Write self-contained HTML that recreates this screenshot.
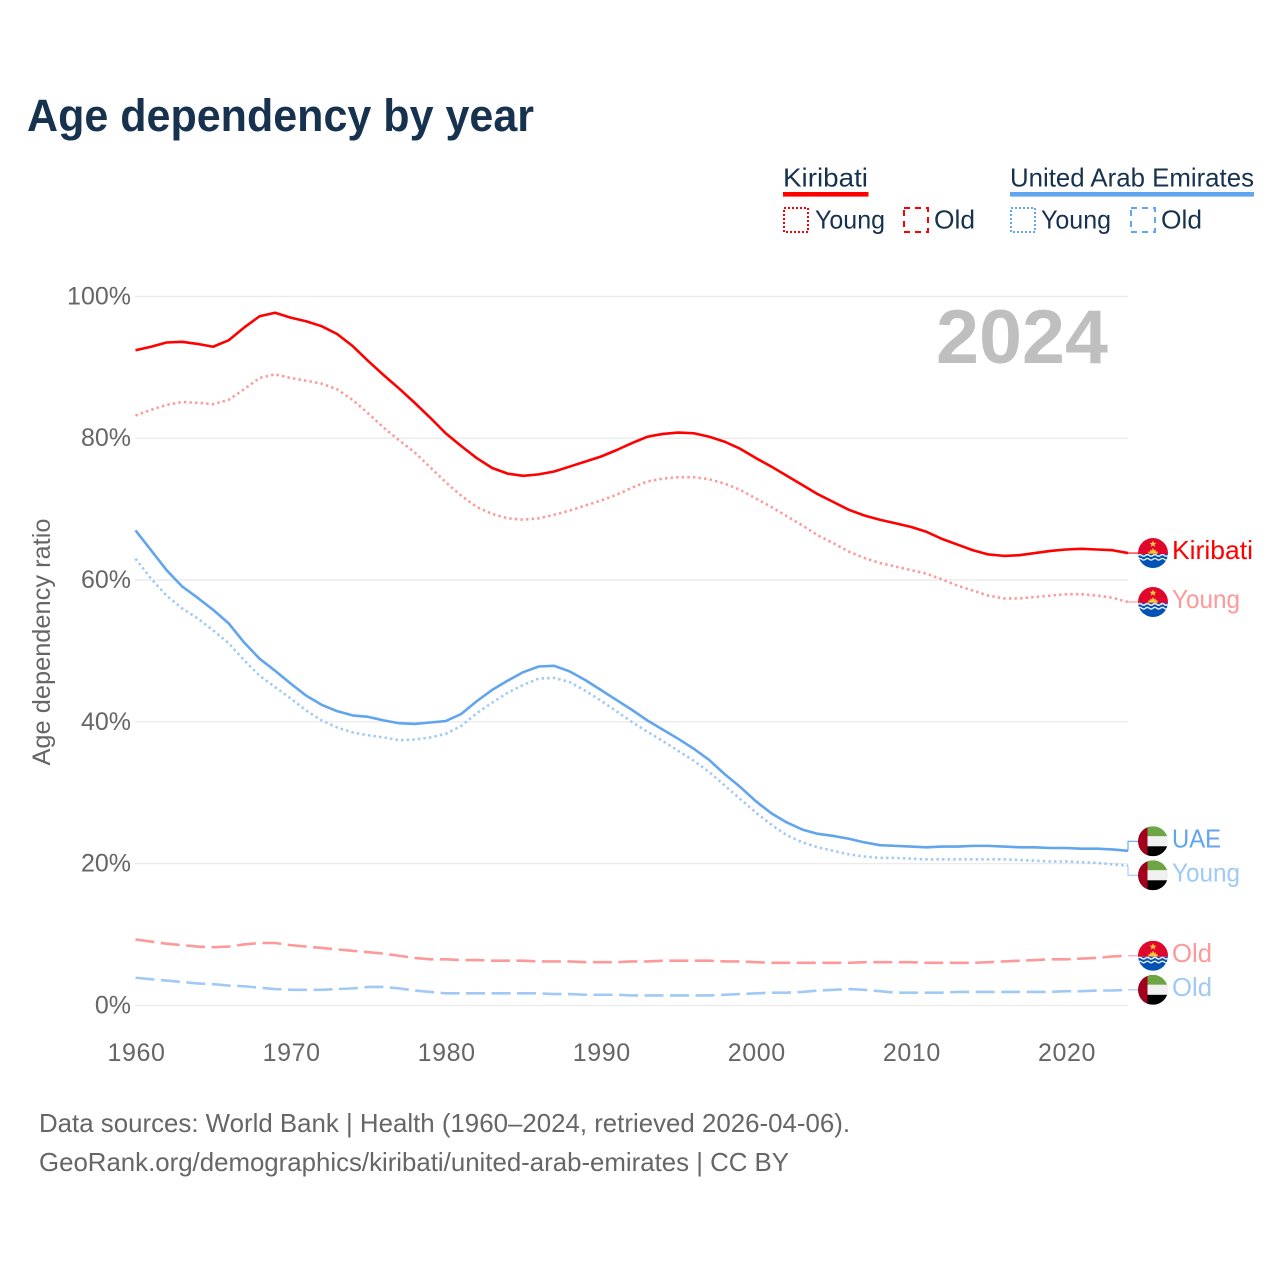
<!DOCTYPE html>
<html lang="en">
<head>
<meta charset="utf-8">
<title>Age dependency by year</title>
<style>
  html, body { margin: 0; padding: 0; background: #fff; }
  svg { display: block; font-family: "Liberation Sans", Arial, sans-serif; }
</style>
</head>
<body>
<svg id="chart" xmlns="http://www.w3.org/2000/svg" width="1280" height="1280" viewBox="0 0 1280 1280">
  <defs>
    <clipPath id="flag-clip"><circle cx="0" cy="0" r="15"/></clipPath>
    <symbol id="flag-kiribati" viewBox="-15 -15 30 30" overflow="visible">
      <g clip-path="url(#flag-clip)">
        <rect x="-15" y="-15" width="30" height="16" fill="#e0062c"/>
        <rect x="-15" y="1" width="30" height="14" fill="#0052b4"/>
        <path d="M-4.6 0.6 L-4.6 -1.8 L-2.8 -1.2 L-2.6 -3.6 L-1 -2.6 L0 -5.4 L1 -2.6 L2.6 -3.6 L2.8 -1.2 L4.6 -1.8 L4.6 0.6 Z" fill="#ffc83d"/>
        <path d="M0 -12.4 L1 -10.2 L3.6 -10.2 L1.6 -8.6 L2.4 -6.2 L0 -7.6 L-2.4 -6.2 L-1.6 -8.6 L-3.6 -10.2 L-1 -10.2 Z" fill="#ffc83d"/>
        <path d="M-15 2.4 q1.9 -1.6 3.75 0 t3.75 0 t3.75 0 t3.75 0 t3.75 0 t3.75 0 t3.75 0 t3.75 0" fill="none" stroke="#f0f0f0" stroke-width="1.5"/>
        <path d="M-15 6.2 q1.9 -1.6 3.75 0 t3.75 0 t3.75 0 t3.75 0 t3.75 0 t3.75 0 t3.75 0 t3.75 0" fill="none" stroke="#f0f0f0" stroke-width="1.4"/>
      </g>
    </symbol>
    <symbol id="flag-uae" viewBox="-15 -15 30 30" overflow="visible">
      <g clip-path="url(#flag-clip)">
        <rect x="-15" y="-15" width="30" height="10" fill="#6da544"/>
        <rect x="-15" y="-5" width="30" height="10" fill="#f0f0f0"/>
        <rect x="-15" y="5" width="30" height="10" fill="#000000"/>
        <rect x="-15" y="-15" width="9.5" height="30" fill="#a2001d"/>
      </g>
    </symbol>
  </defs>

  <rect x="0" y="0" width="1280" height="1280" fill="#ffffff"/>

  <text x="27" y="131" font-size="45" font-weight="700" fill="#17324f" textLength="507" lengthAdjust="spacingAndGlyphs">Age dependency by year</text>

  <g font-size="26" fill="#17324f">
    <g>
      <text x="783" y="186.5" textLength="85" lengthAdjust="spacingAndGlyphs">Kiribati</text>
      <rect x="783" y="192" width="85.5" height="4.6" fill="#ff0000"/>
      <rect x="784" y="208" width="24" height="24" fill="none" stroke="#ff0000" stroke-width="2" stroke-dasharray="2 2"/>
      <text x="815" y="228.5" textLength="70" lengthAdjust="spacingAndGlyphs">Young</text>
      <rect x="904" y="208" width="24" height="24" fill="none" stroke="#ff0000" stroke-width="2" stroke-dasharray="6 5"/>
      <text x="934" y="228.5" textLength="41" lengthAdjust="spacingAndGlyphs">Old</text>
    </g>
    <g>
      <text x="1010" y="186.5" textLength="244" lengthAdjust="spacingAndGlyphs">United Arab Emirates</text>
      <rect x="1010" y="192" width="244" height="4.6" fill="#60a5ee"/>
      <rect x="1011" y="208" width="24" height="24" fill="none" stroke="#60a5ee" stroke-width="2" stroke-dasharray="2 2"/>
      <text x="1041" y="228.5" textLength="70" lengthAdjust="spacingAndGlyphs">Young</text>
      <rect x="1131" y="208" width="24" height="24" fill="none" stroke="#60a5ee" stroke-width="2" stroke-dasharray="6 5"/>
      <text x="1161" y="228.5" textLength="41" lengthAdjust="spacingAndGlyphs">Old</text>
    </g>
  </g>

  <g id="grid"></g>
  <g id="y-ticks"></g>
  <g id="x-ticks"></g>

  <text transform="translate(50 642) rotate(-90)" text-anchor="middle" font-size="25" fill="#666666" textLength="247" lengthAdjust="spacingAndGlyphs">Age dependency ratio</text>

  <text x="936" y="363" font-size="76" font-weight="700" fill="#bfbfbf" textLength="172" lengthAdjust="spacingAndGlyphs">2024</text>

  <g id="series"></g>
  <g id="end-labels"></g>

  <g font-size="26" fill="#666666">
    <text x="39" y="1132" textLength="811" lengthAdjust="spacingAndGlyphs">Data sources: World Bank | Health (1960–2024, retrieved 2026-04-06).</text>
    <text x="39" y="1171" textLength="750" lengthAdjust="spacingAndGlyphs">GeoRank.org/demographics/kiribati/united-arab-emirates | CC BY</text>
  </g>
</svg>

<script>
const years = [
  1960,1961,1962,1963,1964,1965,1966,1967,1968,1969,
  1970,1971,1972,1973,1974,1975,1976,1977,1978,1979,
  1980,1981,1982,1983,1984,1985,1986,1987,1988,1989,
  1990,1991,1992,1993,1994,1995,1996,1997,1998,1999,
  2000,2001,2002,2003,2004,2005,2006,2007,2008,2009,
  2010,2011,2012,2013,2014,2015,2016,2017,2018,2019,
  2020,2021,2022,2023,2024
];
const kiribatiTotal = [
  92.4,92.9,93.5,93.6,93.3,92.9,93.8,95.6,97.2,97.7,
  97.0,96.5,95.8,94.7,93.0,90.9,88.9,87.0,85.0,82.9,
  80.7,78.9,77.2,75.8,75.0,74.7,74.9,75.3,76.0,76.7,
  77.4,78.3,79.3,80.2,80.6,80.8,80.7,80.2,79.5,78.5,
  77.2,76.0,74.7,73.4,72.1,71.0,69.9,69.1,68.5,68.0,
  67.5,66.8,65.8,65.0,64.2,63.6,63.4,63.5,63.8,64.1,
  64.3,64.4,64.3,64.2,63.8
];
const kiribatiYoung = [
  83.2,84.0,84.7,85.1,85.0,84.8,85.4,86.9,88.5,89.0,
  88.5,88.1,87.7,86.9,85.4,83.5,81.5,79.7,78.0,75.9,
  73.8,71.9,70.3,69.3,68.7,68.5,68.7,69.2,69.8,70.5,
  71.2,72.0,73.0,73.9,74.3,74.5,74.5,74.2,73.6,72.7,
  71.5,70.3,69.0,67.7,66.3,65.2,64.0,63.1,62.4,61.9,
  61.4,60.9,60.1,59.2,58.5,57.8,57.4,57.4,57.6,57.8,
  58.0,58.0,57.8,57.5,56.9
];
const kiribatiOld = [
  9.3,9.0,8.7,8.5,8.3,8.2,8.3,8.6,8.8,8.8,
  8.5,8.3,8.1,7.9,7.7,7.5,7.3,7.0,6.7,6.5,
  6.5,6.4,6.4,6.3,6.3,6.3,6.2,6.2,6.2,6.1,
  6.1,6.1,6.2,6.2,6.3,6.3,6.3,6.3,6.2,6.2,
  6.1,6.0,6.0,6.0,6.0,6.0,6.0,6.1,6.1,6.1,
  6.1,6.0,6.0,6.0,6.0,6.1,6.2,6.3,6.4,6.5,
  6.5,6.6,6.7,6.9,7.0
];
const uaeTotal = [
  67.0,64.2,61.4,59.1,57.5,55.8,53.9,51.2,48.9,47.2,
  45.4,43.7,42.4,41.5,40.9,40.7,40.2,39.8,39.7,39.9,
  40.1,41.1,42.9,44.5,45.8,47.0,47.8,47.9,47.1,45.9,
  44.5,43.1,41.7,40.2,38.9,37.6,36.2,34.6,32.6,30.8,
  28.8,27.1,25.8,24.8,24.2,23.9,23.5,23.0,22.6,22.5,
  22.4,22.3,22.4,22.4,22.5,22.5,22.4,22.3,22.3,22.2,
  22.2,22.1,22.1,22.0,21.8
];
const uaeYoung = [
  63.0,60.2,57.8,56.0,54.6,52.9,51.1,48.7,46.5,44.9,
  43.3,41.6,40.2,39.2,38.5,38.1,37.8,37.4,37.5,37.8,
  38.3,39.4,41.2,42.7,44.1,45.2,46.1,46.2,45.6,44.4,
  43.0,41.5,40.0,38.6,37.3,35.9,34.5,32.9,31.0,29.1,
  27.2,25.5,24.0,23.0,22.3,21.8,21.3,21.0,20.8,20.8,
  20.7,20.6,20.6,20.6,20.6,20.6,20.6,20.5,20.4,20.3,
  20.3,20.2,20.1,19.9,19.7
];
const uaeOld = [
  3.9,3.7,3.5,3.3,3.1,3.0,2.8,2.7,2.5,2.3,
  2.2,2.2,2.2,2.3,2.4,2.6,2.6,2.4,2.1,1.9,
  1.7,1.7,1.7,1.7,1.7,1.7,1.7,1.6,1.6,1.5,
  1.5,1.5,1.4,1.4,1.4,1.4,1.4,1.4,1.5,1.6,
  1.7,1.8,1.8,1.9,2.1,2.2,2.3,2.2,2.0,1.8,
  1.8,1.8,1.8,1.9,1.9,1.9,1.9,1.9,1.9,1.9,
  2.0,2.0,2.1,2.1,2.2
];
const yTickValues = [0, 20, 40, 60, 80, 100];
const yTickLabels = ["0%", "20%", "40%", "60%", "80%", "100%"];
const xTickValues = [1960, 1970, 1980, 1990, 2000, 2010, 2020];
const xTickLabels = ["1960", "1970", "1980", "1990", "2000", "2010", "2020"];

const SVG_NS = "http://www.w3.org/2000/svg";
const xAxis = function (year) { return 135.5 + (year - 1960) * (1128 - 135.5) / (2024 - 1960); };
const yAxis = function (value) { return 1005.4 - value * 7.09; };

function make(tag, attrs, parent) {
  const el = document.createElementNS(SVG_NS, tag);
  Object.keys(attrs).forEach(function (k) { el.setAttribute(k, attrs[k]); });
  parent.appendChild(el);
  return el;
}

const gridGroup = document.getElementById("grid");
const yTickGroup = document.getElementById("y-ticks");
const xTickGroup = document.getElementById("x-ticks");
const seriesGroup = document.getElementById("series");
const labelGroup = document.getElementById("end-labels");

yTickValues.forEach(function (v, i) {
  const line = make("line", { x1: 135, x2: 1128, y1: yAxis(v), y2: yAxis(v), stroke: "#ebebeb", "stroke-width": 1.4 }, gridGroup);
  
  
  const label = make("text", { x: 131, y: yAxis(v) + 8, "text-anchor": "end", "font-size": 25, fill: "#666666" }, yTickGroup);
  label.textContent = yTickLabels[i];
  
  
});

xTickValues.forEach(function (v, i) {
  const label = make("text", { x: xAxis(v) + 1, y: 1061, "text-anchor": "middle", "font-size": 25, "letter-spacing": 0.6, fill: "#666666" }, xTickGroup);
  label.textContent = xTickLabels[i];
  
  
});

const seriesList = [
  { id: "kiribati-total", values: kiribatiTotal, color: "#ff0000", dash: "", label: "Kiribati", flag: "flag-kiribati", labelWidth: 81 },
  { id: "kiribati-young", values: kiribatiYoung, color: "#ff9999", dash: "2.4 3.2", label: "Young", flag: "flag-kiribati", labelWidth: 68 },
  { id: "kiribati-old", values: kiribatiOld, color: "#ff9999", dash: "19 6.5", label: "Old", flag: "flag-kiribati", labelWidth: 40 },
  { id: "uae-total", values: uaeTotal, color: "#60a5ee", dash: "", label: "UAE", flag: "flag-uae", labelWidth: 49 },
  { id: "uae-young", values: uaeYoung, color: "#a0c9f5", dash: "2.4 3.2", label: "Young", flag: "flag-uae", labelWidth: 68 },
  { id: "uae-old", values: uaeOld, color: "#a0c9f5", dash: "19 6.5", label: "Old", flag: "flag-uae", labelWidth: 40 }
];

seriesList.forEach(function (s) {
  let d = "";
  s.values.forEach(function (v, i) {
    d += (i === 0 ? "M" : "L") + xAxis(years[i]).toFixed(2) + " " + yAxis(v).toFixed(2);
  });
  const attrs = { d: d, fill: "none", stroke: s.color, "stroke-width": 2.6, "stroke-linejoin": "round" };
  if (s.dash) { attrs["stroke-dasharray"] = s.dash; }
  const path = make("path", attrs, seriesGroup);
  
  
});

/* End labels: start at the last value of each series, then push apart any that would collide. */
const MIN_LABEL_GAP = 34;
const placed = seriesList.map(function (s) {
  const endY = yAxis(s.values[s.values.length - 1]);
  return { series: s, endY: endY, labelY: endY };
}).sort(function (a, b) { return a.endY - b.endY; });

for (let pass = 0; pass < 20; pass++) {
  for (let i = 1; i < placed.length; i++) {
    const gap = placed[i].labelY - placed[i - 1].labelY;
    if (gap < MIN_LABEL_GAP) {
      const shift = (MIN_LABEL_GAP - gap) / 2;
      placed[i - 1].labelY -= shift;
      placed[i].labelY += shift;
    }
  }
}

placed.forEach(function (p) {
  const s = p.series;
  const connector = make("path", {
    d: "M1128 " + p.endY.toFixed(2) + " V" + p.labelY.toFixed(2) + " H1139",
    fill: "none", stroke: s.color, "stroke-width": 1.1
  }, labelGroup);
  
  

  const flag = make("use", { href: "#" + s.flag, x: 1138, y: p.labelY - 15, width: 30, height: 30 }, labelGroup);
  
  

  const text = make("text", {
    x: 1172, y: p.labelY + 6, "font-size": 26, fill: s.color,
    textLength: s.labelWidth, lengthAdjust: "spacingAndGlyphs"
  }, labelGroup);
  text.textContent = s.label;
  
  
});
</script>
</body>
</html>
